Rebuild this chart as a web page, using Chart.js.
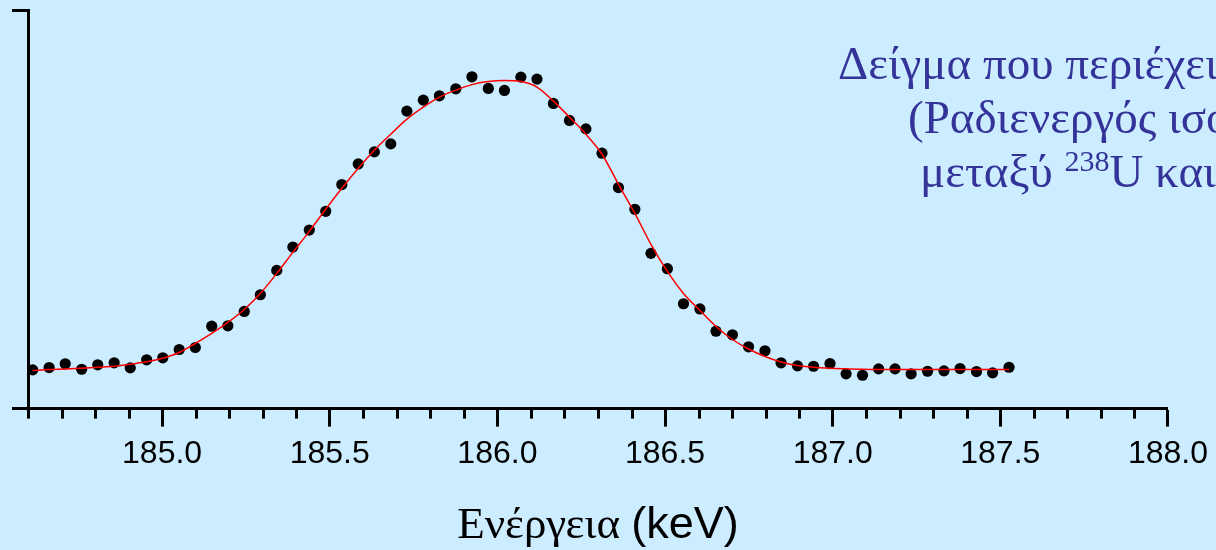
<!DOCTYPE html>
<html>
<head>
<meta charset="utf-8">
<script src="https://cdn.jsdelivr.net/npm/chart.js@4.4.1/dist/chart.umd.min.js"></script>
<style>
  html, body { margin: 0; padding: 0; background: #ccecff; }
  #wrap { width: 1216px; height: 550px; position: relative; }
</style>
</head>
<body>
<div id="wrap"><canvas id="spectrum"></canvas></div>
<script>
// channel energies (keV)
const energyKeV = [
  184.614, 184.663, 184.711, 184.760, 184.808, 184.857, 184.905, 184.954, 185.002, 185.051,
  185.099, 185.148, 185.196, 185.245, 185.293, 185.342, 185.390, 185.439, 185.488, 185.536,
  185.585, 185.633, 185.682, 185.730, 185.779, 185.827, 185.876, 185.924, 185.973, 186.021,
  186.070, 186.118, 186.167, 186.215, 186.264, 186.312, 186.361, 186.410, 186.458, 186.507,
  186.555, 186.604, 186.652, 186.701, 186.749, 186.798, 186.846, 186.895, 186.943, 186.992,
  187.040, 187.089, 187.137, 187.186, 187.234, 187.283, 187.332, 187.380, 187.429, 187.477,
  187.526
];
// measured counts (arbitrary units)
const counts = [
  38.7, 41, 44.7, 39.3, 43.7, 45.7, 40.7, 48.7, 50.7, 59,
  61, 82.3, 82.7, 97, 113.7, 138, 161.3, 178.3, 197, 223.7,
  244.3, 256.3, 264.3, 297, 308, 312.3, 319.3, 331.3, 319.7, 317.7,
  331, 329, 304.7, 287.7, 279.3, 255, 220.7, 199, 155, 139.7,
  104.7, 99.5, 77.3, 73.7, 61.7, 57.7, 45.7, 42.7, 42.3, 45,
  34.7, 33.3, 39.7, 39.7, 34.7, 37.3, 37.7, 40, 37, 35.7,
  41.3
];
// fitted peak
const fitCounts = [
  38, 39, 39.5, 40.3, 41.2, 42.2, 44.3, 46.7, 50.3, 56,
  65, 75, 86, 99, 115, 135, 156, 177, 199, 220,
  240, 258, 274, 289, 301, 311, 318, 323.5, 326.5, 327.5,
  326.5, 321, 307, 291, 274, 254, 224, 195, 164, 137,
  115, 98, 82, 69, 59.5, 52, 46.5, 43, 41.3, 40.3,
  39.7, 39.2, 39, 39, 39, 39, 39, 39, 39, 39,
  39
];
const tickLabels = ['185.0', '185.5', '186.0', '186.5', '187.0', '187.5', '188.0'];
const noteLines = [
  [{ t: 'Δείγμα που περιέχει ουράνιο' }],
  [{ t: '(Ραδιενεργός ισορροπία' }],
  [{ t: 'μεταξύ ' }, { t: '238', sup: true }, { t: 'U και ' }, { t: '226', sup: true }, { t: 'Ra)' }]
];

const serif = '"Liberation Serif", "Times New Roman", serif';
const sans = '"Liberation Sans", Arial, sans-serif';

function isMajor(v) {
  return tickLabels.includes(v.toFixed(1)) && Math.abs(v * 2 - Math.round(v * 2)) < 1e-6;
}

const decorations = {
  id: 'decorations',
  afterDraw(chart) {
    const ctx = chart.ctx;
    const xs = chart.scales.x;
    const base = xs.top;
    ctx.save();
    // minor ticks
    ctx.strokeStyle = '#000';
    ctx.lineWidth = 3;
    xs.ticks.forEach(t => {
      if (isMajor(t.value)) return;
      const px = Math.round(xs.getPixelForValue(t.value)) + 0.5;
      ctx.beginPath();
      ctx.moveTo(px, base);
      ctx.lineTo(px, base + 10);
      ctx.stroke();
    });

    // axis title: Greek word in serif, unit in sans
    const part1 = 'Ενέργεια ';
    const part2 = '(keV)';
    ctx.font = '45px ' + serif;
    const w1 = ctx.measureText(part1).width;
    ctx.font = '45px ' + sans;
    const w2 = ctx.measureText(part2).width;
    let sx = (xs.left + xs.right) / 2 - (w1 + w2) / 2;
    ctx.fillStyle = '#000';
    ctx.textBaseline = 'alphabetic';
    ctx.textAlign = 'left';
    ctx.font = '45px ' + serif;
    ctx.fillText(part1, sx, 538);
    ctx.font = '45px ' + sans;
    ctx.fillText(part2, sx + w1, 538);

    // note in the upper right
    ctx.fillStyle = '#333399';
    const starts = [838, 908, 920];
    const baselines = [79, 133, 187];
    noteLines.forEach((line, i) => {
      let x = starts[i];
      line.forEach(seg => {
        if (seg.sup) {
          ctx.font = '30px ' + serif;
          ctx.fillText(seg.t, x, baselines[i] - 16);
        } else {
          ctx.font = '47px ' + serif;
          ctx.fillText(seg.t, x, baselines[i]);
        }
        x += ctx.measureText(seg.t).width;
      });
    });
    ctx.restore();
  }
};

new Chart(document.getElementById('spectrum'), {
  type: 'scatter',
  data: {
    datasets: [
      {
        label: 'fit',
        data: energyKeV.map((e, i) => ({ x: e, y: fitCounts[i] })),
        showLine: true,
        borderColor: '#ff0000',
        borderWidth: 1.5,
        pointRadius: 0,
        cubicInterpolationMode: 'monotone',
        order: 0
      },
      {
        label: 'counts',
        data: energyKeV.map((e, i) => ({ x: e, y: counts[i] })),
        backgroundColor: '#000',
        borderWidth: 0,
        pointRadius: 5.6,
        order: 1
      }
    ]
  },
  options: {
    responsive: true,
    maintainAspectRatio: false,
    animation: false,
    layout: { padding: { left: 12, right: 46, top: 10, bottom: 69 } },
    plugins: { legend: { display: false }, tooltip: { enabled: false } },
    scales: {
      x: {
        type: 'linear',
        min: 184.6,
        max: 188.0,
        border: { display: true, color: '#000', width: 3 },
        grid: {
          drawOnChartArea: false,
          drawTicks: true,
          tickLength: 18,
          tickWidth: 3,
          tickColor: c => (c.tick && isMajor(c.tick.value)) ? '#000' : 'rgba(0,0,0,0)'
        },
        ticks: {
          stepSize: 0.1,
          autoSkip: false,
          maxRotation: 0,
          padding: 8,
          color: '#000',
          font: { family: sans, size: 32 },
          callback: v => isMajor(v) ? v.toFixed(1) : ''
        }
      },
      y: {
        min: 0,
        max: 398,
        border: { display: true, color: '#000', width: 3 },
        grid: {
          drawOnChartArea: false,
          drawTicks: true,
          tickLength: 16,
          tickWidth: 3,
          tickColor: '#000'
        },
        ticks: { display: false },
        afterBuildTicks: axis => { axis.ticks = [{ value: 0 }, { value: 398 }]; }
      }
    }
  },
  plugins: [decorations]
});
</script>
</body>
</html>
